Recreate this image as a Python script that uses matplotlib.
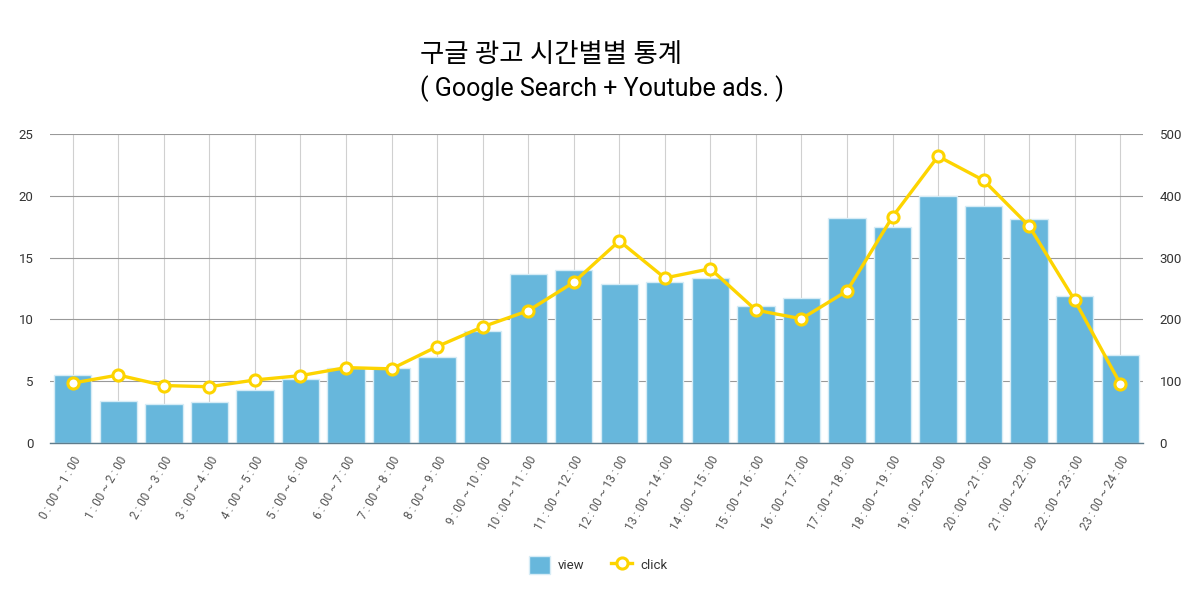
import matplotlib
matplotlib.use("Agg")
import matplotlib.pyplot as plt
import numpy as np

plt.rcParams["font.family"] = ["Roboto", "Noto Sans CJK KR", "DejaVu Sans"]

# ---- data ----
hours = [f"{h} : 00 ~ {h + 1} : 00" for h in range(24)]
view = [5.5, 3.4, 3.15, 3.35, 4.25, 5.2, 6.1, 6.05, 6.95, 9.05, 13.7, 14.0,
        12.85, 13.05, 13.35, 11.05, 11.75, 18.2, 17.5, 20.0, 19.15, 18.15, 11.9, 7.1]
click = [97, 110, 93, 91, 102, 109, 122, 120, 156, 188, 214, 260,
         327, 267, 282, 215, 201, 246, 366, 464, 425, 351, 231, 96]

BAR_COLOR = "#67b7dc"
LINE_COLOR = "#fdd400"

fig = plt.figure(figsize=(12.03, 6.0), dpi=100)
ax = fig.add_axes([50 / 1203, 1 - 443 / 600, 1093 / 1203, 309 / 600])

x = np.arange(len(hours))
ax.bar(x, view, width=0.82, color=BAR_COLOR, edgecolor="#d6ecf6", linewidth=1.0,
       label="view", zorder=2)
ax.set_xlim(-0.5, len(hours) - 0.5)
ax.set_ylim(0, 25)
ax.set_yticks(np.arange(0, 26, 5))
ax.set_xticks(x)
ax.set_xticklabels(hours, rotation=60, ha="right", rotation_mode="anchor",
                   fontsize=8.5, color="#555555")
ax.tick_params(axis="both", length=0)
ax.tick_params(axis="y", labelsize=9.5, labelcolor="#333333", pad=12)
ax.tick_params(axis="x", pad=8)
ax.set_axisbelow(True)
ax.grid(axis="y", color="#999999", linewidth=0.8)
ax.grid(axis="x", color="#d0d0d0", linewidth=0.8)
for side in ["top", "left", "right"]:
    ax.spines[side].set_visible(False)
ax.spines["bottom"].set_color("#5f7c8c")
ax.spines["bottom"].set_linewidth(1.0)
ax.spines["bottom"].set_zorder(3)

ax2 = ax.twinx()
ax2.plot(x, click, color=LINE_COLOR, linewidth=2.4, marker="o", markersize=8,
         markerfacecolor="white", markeredgecolor=LINE_COLOR, markeredgewidth=2.2,
         label="click", zorder=4)
ax2.set_ylim(0, 500)
ax2.set_yticks(np.arange(0, 501, 100))
ax2.tick_params(axis="y", length=0, labelsize=9.5, labelcolor="#333333", pad=12)
for side in ["top", "left", "right", "bottom"]:
    ax2.spines[side].set_visible(False)

fig.text(420 / 1203, 1 - 55 / 600, "구글 광고 시간별별 통계", fontsize=19,
         ha="left", va="center", color="#000000")
fig.text(420 / 1203, 1 - 89 / 600, "( Google Search + Youtube ads. )", fontsize=18,
         ha="left", va="center", color="#000000")

h1, l1 = ax.get_legend_handles_labels()
h2, l2 = ax2.get_legend_handles_labels()
fig.legend(h1 + h2, l1 + l2, loc="center", bbox_to_anchor=(598 / 1203, 1 - 565 / 600),
           ncol=2, frameon=False, fontsize=9.5, handlelength=1.6, handleheight=1.7,
           handletextpad=0.6, columnspacing=2.0, labelcolor="#333333")

fig.savefig("out.png", dpi=100)
